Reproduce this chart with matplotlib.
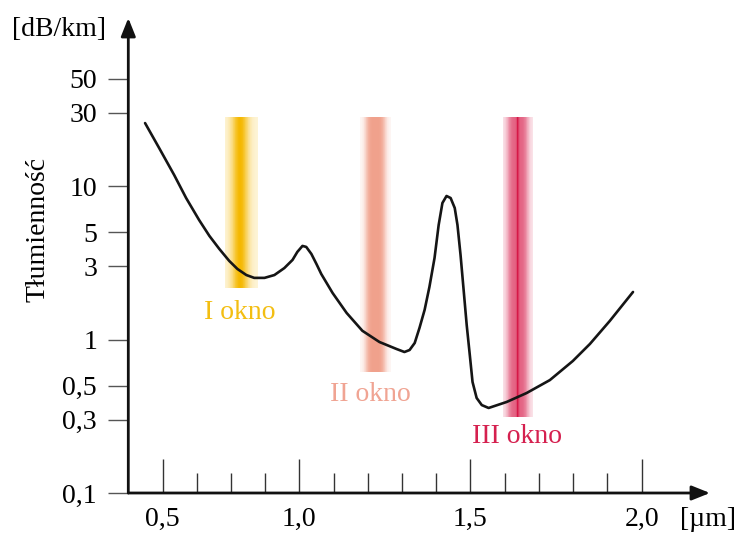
import numpy as np
import matplotlib
matplotlib.use("Agg")
import matplotlib.pyplot as plt
from matplotlib.ticker import FixedLocator, NullLocator

plt.rcParams['font.family'] = ['Liberation Serif', 'DejaVu Serif']

# ---- data ----
wavelength = [0.549, 0.590, 0.634, 0.669, 0.707, 0.737, 0.766, 0.795, 0.819, 0.845,
              0.868, 0.898, 0.927, 0.956, 0.980, 0.994, 1.009, 1.020, 1.035, 1.050,
              1.064, 1.097, 1.138, 1.184, 1.234, 1.284, 1.307, 1.322, 1.337, 1.351,
              1.366, 1.380, 1.395, 1.407, 1.418, 1.430, 1.442, 1.454, 1.462, 1.471,
              1.480, 1.489, 1.498, 1.506, 1.518, 1.533, 1.553, 1.606, 1.664, 1.732,
              1.799, 1.849, 1.907, 1.975]
attenuation = [25.7, 17.7, 11.8, 8.35, 6.00, 4.73, 3.89, 3.25, 2.88, 2.63,
               2.52, 2.52, 2.63, 2.92, 3.30, 3.72, 4.07, 4.01, 3.61, 3.10,
               2.67, 2.01, 1.49, 1.14, 0.963, 0.867, 0.829, 0.854, 0.949, 1.19,
               1.56, 2.20, 3.40, 5.57, 7.75, 8.61, 8.35, 7.19, 5.57, 3.55,
               2.10, 1.24, 0.793, 0.529, 0.416, 0.374, 0.358, 0.392, 0.448, 0.544,
               0.724, 0.935, 1.32, 2.04]

window_names = ["I okno", "II okno", "III okno"]
window_x0 = [0.783, 1.176, 1.594]
window_x1 = [0.880, 1.269, 1.682]
window_ytop = [28.1, 28.1, 28.1]
window_ybot = [2.17, 0.613, 0.313]
window_colors = [(245, 184, 0), (238, 148, 124), (214, 22, 70)]
window_text_colors = ["#F3BE12", "#F0A493", "#D5204F"]
window_label_x = [0.825, 1.208, 1.635]
window_label_y = [1.51, 0.441, 0.232]

y_ticks = [0.1, 0.3, 0.5, 1, 3, 5, 10, 30, 50]
y_tick_labels = ["0,1", "0,3", "0,5", "1", "3", "5", "10", "30", "50"]
x_major = [0.6, 1.0, 1.5, 2.0]
x_major_labels = ["0,5", "1,0", "1,5", "2,0"]
x_minor = [0.7, 0.8, 0.9, 1.1, 1.2, 1.3, 1.4, 1.6, 1.7, 1.8, 1.9]

# ---- figure ----
W, H = 742, 534
fig = plt.figure(figsize=(W / 100, H / 100), dpi=100)
ax = fig.add_axes([128.3 / W, (H - 493) / H, 581.7 / W, 475 / H])
ax.set_yscale('log')
ax.set_xlim(0.5, 2.2)
ax.set_ylim(0.1, 10 ** (-1 + 475 / 153.5))

for s in ax.spines.values():
    s.set_visible(False)

# gradient bands
def profile(i, t):
    if i == 0:
        return 0.15 + 0.85 * np.exp(-((t + 0.1) / 0.5) ** 2)
    if i == 1:
        return 0.08 + 0.80 * np.exp(-(t / 0.65) ** 4)
    return 0.12 + 0.55 * np.exp(-(t / 0.7) ** 4) + 0.33 * np.exp(-(t / 0.08) ** 2)

N = 80
for i in range(3):
    x0, x1 = window_x0[i], window_x1[i]
    edges = np.linspace(x0, x1, N + 1)
    centers = 0.5 * (edges[:-1] + edges[1:])
    t = (centers - (x0 + x1) / 2) / ((x1 - x0) / 2)
    a = np.clip(profile(i, t), 0, 1)
    base = np.array(window_colors[i]) / 255.0
    cols = [tuple(1 - ai + ai * base) for ai in a]
    dx = (x1 - x0) / N
    ax.bar(centers, window_ytop[i] - window_ybot[i], bottom=window_ybot[i],
           width=dx * 1.15, color=cols, linewidth=0, zorder=1)
    ax.text(window_label_x[i], window_label_y[i], window_names[i], color=window_text_colors[i],
            fontsize=20, ha='center', va='center', zorder=3)

# curve
ax.plot(wavelength, attenuation, color='#151515', lw=1.9, solid_joinstyle='round',
        solid_capstyle='round', zorder=2)

# ticks
ax.yaxis.set_major_locator(FixedLocator(y_ticks))
ax.yaxis.set_minor_locator(NullLocator())
ax.set_yticklabels(y_tick_labels)
ax.tick_params(axis='y', which='major', direction='out', length=14.5, width=1.0,
               color='#555555', pad=8, labelsize=20)

ax.xaxis.set_major_locator(FixedLocator(x_major))
ax.xaxis.set_minor_locator(FixedLocator(x_minor))
ax.set_xticklabels(x_major_labels)
ax.tick_params(axis='x', which='major', direction='in', length=24.5, width=1.0,
               color='#333333', pad=10, labelsize=20)
ax.tick_params(axis='x', which='minor', direction='in', length=14.5, width=1.0,
               color='#333333')

# axes arrows
arrow_kw = dict(arrowstyle='-|>,head_length=0.55,head_width=0.22', lw=2.0, color='#111111',
                shrinkA=0, shrinkB=0, mutation_scale=20)
ax.annotate('', xy=(1.0, 0), xytext=(0, 0), xycoords='axes fraction',
            textcoords='axes fraction', arrowprops=arrow_kw, zorder=4)
ax.annotate('', xy=(0, 1.0), xytext=(0, 0), xycoords='axes fraction',
            textcoords='axes fraction', arrowprops=arrow_kw, zorder=4)

# axis texts
fig.text(59 / W, 1 - 30 / H, "[dB/km]", fontsize=20, ha='center', va='center')
fig.text(708 / W, 1 - 520 / H, "[µm]", fontsize=20, ha='center', va='center')
fig.text(38 / W, 1 - 230 / H, "Tłumienność", fontsize=20, ha='center', va='center',
         rotation=90)

fig.savefig("out.png", dpi=100)
